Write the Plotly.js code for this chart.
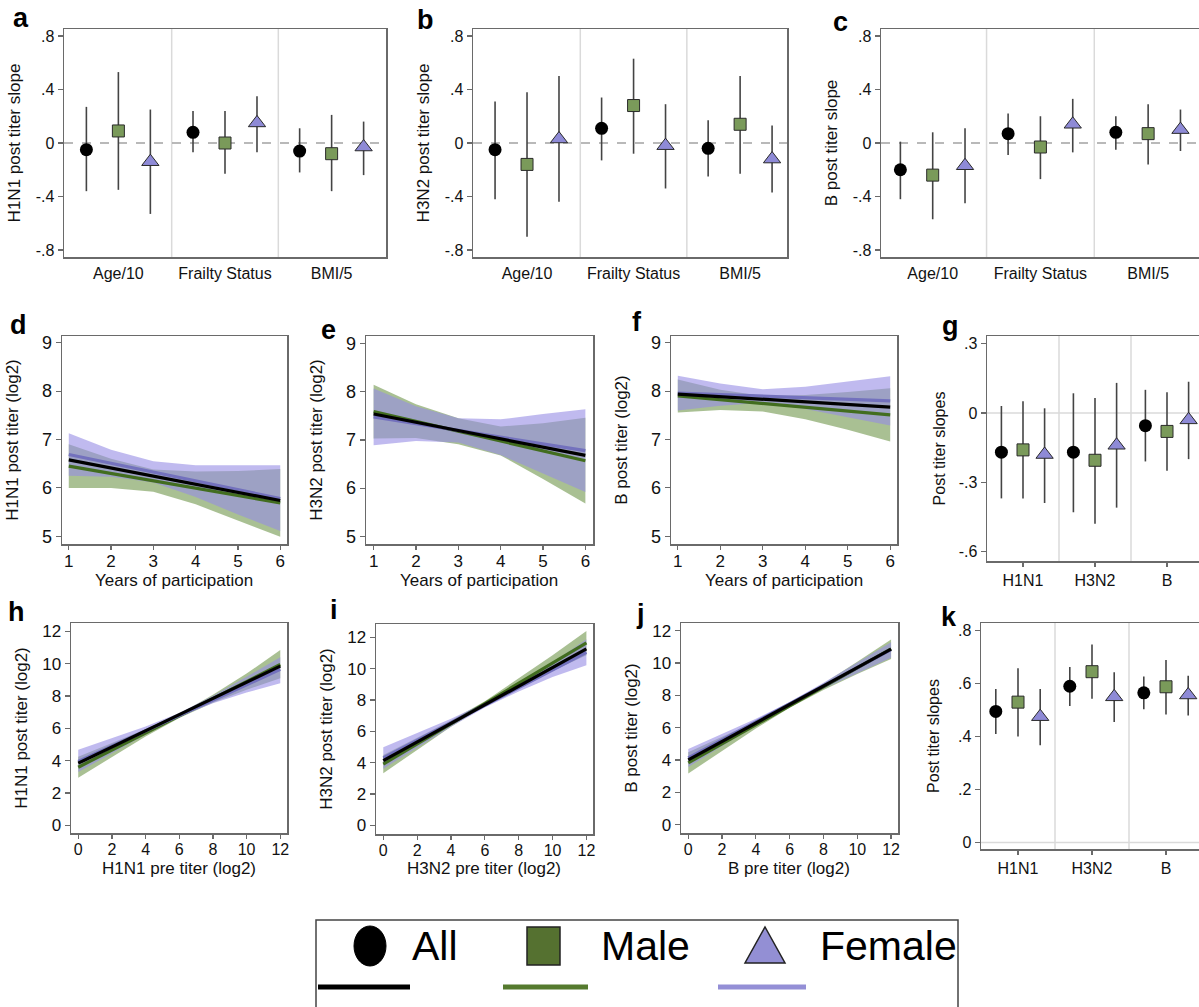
<!DOCTYPE html>
<html><head><meta charset="utf-8">
<script src="https://cdn.plot.ly/plotly-3.0.1.min.js"></script>
<style>html,body{margin:0;padding:0;overflow:hidden;background:#fff;} #chart{width:1205px;height:1007px;}</style>
</head><body><div id="chart"></div>
<script>
// ---------- categories & labels ----------
const slopeCats = ['Age/10', 'Frailty Status', 'BMI/5'];
const strainCats = ['H1N1', 'H3N2', 'B'];
const groupNames = ['All', 'Male', 'Female'];
const slopeTickVals = [-0.8, -0.4, 0, 0.4, 0.8];
const slopeTickText = ['-.8', '-.4', '0', '.4', '.8'];
const gTickVals = [-0.6, -0.3, 0, 0.3];
const gTickText = ['-.6', '-.3', '0', '.3'];
const kTickVals = [0, 0.2, 0.4, 0.6, 0.8];
const kTickText = ['0', '.2', '.4', '.6', '.8'];
const years = [1, 2, 3, 4, 5, 6];
const yearEnds = [1, 6];
const preTiter = [0, 2, 4, 6, 8, 10, 12];
const preEnds = [0, 12];

// ---------- panel a (H1N1) rows: All, Male, Female; cols: Age, Frailty, BMI ----------
const aEst = [[-0.05, 0.08, -0.06], [0.09, 0.00, -0.08], [-0.14, 0.15, -0.03]];
const aLo  = [[-0.36, -0.07, -0.22], [-0.35, -0.23, -0.36], [-0.53, -0.07, -0.24]];
const aHi  = [[0.27, 0.24, 0.11], [0.53, 0.24, 0.21], [0.25, 0.35, 0.16]];
// ---------- panel b (H3N2) ----------
const bEst = [[-0.05, 0.11, -0.04], [-0.16, 0.28, 0.14], [0.03, -0.02, -0.12]];
const bLo  = [[-0.42, -0.13, -0.25], [-0.70, -0.08, -0.23], [-0.44, -0.34, -0.37]];
const bHi  = [[0.31, 0.34, 0.17], [0.38, 0.63, 0.50], [0.50, 0.29, 0.13]];
// ---------- panel c (B) ----------
const cEst = [[-0.20, 0.07, 0.08], [-0.24, -0.03, 0.07], [-0.17, 0.14, 0.10]];
const cLo  = [[-0.42, -0.09, -0.05], [-0.57, -0.27, -0.16], [-0.45, -0.07, -0.06]];
const cHi  = [[0.01, 0.22, 0.20], [0.08, 0.20, 0.29], [0.11, 0.33, 0.25]];
// ---------- panel g (years slopes) cols: H1N1, H3N2, B ----------
const gEst = [[-0.17, -0.17, -0.055], [-0.16, -0.205, -0.08], [-0.18, -0.14, -0.03]];
const gLo  = [[-0.37, -0.43, -0.21], [-0.37, -0.48, -0.25], [-0.39, -0.41, -0.20]];
const gHi  = [[0.03, 0.085, 0.10], [0.05, 0.065, 0.09], [0.02, 0.13, 0.135]];
// ---------- panel k (pre titer slopes) ----------
const kEst = [[0.495, 0.59, 0.565], [0.53, 0.645, 0.588], [0.475, 0.55, 0.557]];
const kLo  = [[0.41, 0.515, 0.503], [0.40, 0.543, 0.483], [0.367, 0.455, 0.479]];
const kHi  = [[0.58, 0.663, 0.627], [0.658, 0.748, 0.689], [0.58, 0.643, 0.63]];

// ---------- panel d (H1N1 vs years) ----------
const dAllLine = [6.58, 5.74];
const dMaleLine = [6.45, 5.69];
const dFemaleLine = [6.69, 5.78];
const dMaleHi = [6.90, 6.60, 6.38, 6.34, 6.35, 6.39];
const dMaleLo = [6.00, 6.00, 5.92, 5.66, 5.33, 4.99];
const dFemaleHi = [7.13, 6.79, 6.55, 6.47, 6.47, 6.47];
const dFemaleLo = [6.25, 6.23, 6.11, 5.81, 5.45, 5.11];
// ---------- panel e (H3N2 vs years) ----------
const eAllLine = [7.54, 6.68];
const eMaleLine = [7.59, 6.57];
const eFemaleLine = [7.48, 6.78];
const eMaleHi = [8.15, 7.74, 7.45, 7.28, 7.35, 7.46];
const eMaleLo = [7.03, 7.04, 6.91, 6.68, 6.19, 5.68];
const eFemaleHi = [8.07, 7.70, 7.45, 7.43, 7.54, 7.64];
const eFemaleLo = [6.89, 6.98, 6.95, 6.69, 6.30, 5.92];
// ---------- panel f (B vs years) ----------
const fAllLine = [7.94, 7.67];
const fMaleLine = [7.90, 7.51];
const fFemaleLine = [7.96, 7.80];
const fMaleHi = [8.24, 8.03, 7.90, 7.92, 7.98, 8.06];
const fMaleLo = [7.56, 7.61, 7.58, 7.42, 7.20, 6.96];
const fFemaleHi = [8.32, 8.16, 8.04, 8.09, 8.20, 8.31];
const fFemaleLo = [7.60, 7.70, 7.76, 7.63, 7.46, 7.29];
// ---------- panel h (H1N1 post vs pre) ----------
const hAllLine = [3.85, 9.85];
const hMaleLine = [3.60, 9.95];
const hFemaleLine = [3.95, 9.65];
const hMaleHi = [4.25, 5.08, 5.94, 6.89, 8.08, 9.39, 10.85];
const hMaleLo = [2.95, 4.24, 5.50, 6.65, 7.58, 8.39, 9.10];
const hFemaleHi = [4.68, 5.38, 6.12, 6.96, 8.02, 9.20, 10.40];
const hFemaleLo = [3.30, 4.44, 5.62, 6.72, 7.55, 8.22, 8.80];
// ---------- panel i (H3N2 post vs pre) ----------
const iAllLine = [4.13, 11.26];
const iMaleLine = [3.91, 11.64];
const iFemaleLine = [4.30, 11.04];
const iMaleHi = [4.49, 5.58, 6.69, 7.92, 9.36, 10.85, 12.40];
const iMaleLo = [3.33, 4.82, 6.29, 7.62, 8.76, 9.85, 10.86];
const iFemaleHi = [4.98, 5.87, 6.80, 7.82, 9.05, 10.37, 11.87];
const iFemaleLo = [3.62, 4.97, 6.30, 7.52, 8.55, 9.47, 10.21];
// ---------- panel j (B post vs pre) ----------
const jAllLine = [4.00, 10.85];
const jMaleLine = [3.82, 10.87];
const jFemaleLine = [4.12, 10.82];
const jMaleHi = [4.48, 5.41, 6.39, 7.47, 8.72, 10.08, 11.45];
const jMaleLo = [3.16, 4.57, 5.95, 7.23, 8.32, 9.32, 10.25];
const jFemaleHi = [4.68, 5.62, 6.55, 7.59, 8.77, 10.03, 11.28];
const jFemaleLo = [3.56, 4.86, 6.15, 7.35, 8.41, 9.37, 10.32];

// ---------- styling ----------
const W = 1205, H = 1007;
const FONT = 'Liberation Sans, Arial, Helvetica, sans-serif';
const TXT = '#111';
const FRAME = '#6a6a6a';
const dx = (a, b) => [a / W, b / W];
const dy = (top, bottom) => [1 - bottom / H, 1 - top / H];
const px = v => v / W;
const py = v => 1 - v / H;

const offsets = [-0.3, 0, 0.3];
const dotStyles = [
  {symbol: 'circle', size: 13, color: '#000000', line: {color: '#000000', width: 0}},
  {symbol: 'square', size: 12, color: '#7a9a5a', line: {color: '#2a2a2a', width: 1}},
  {symbol: 'triangle-up', size: 15, color: '#8e8ad6', line: {color: '#2a2a2a', width: 1}}
];
const bandColors = ['rgba(83,130,40,0.5)', 'rgba(150,140,228,0.6)'];
const lineColors = {all: '#000000', male: '#426d1f', female: '#7371bd'};

const traces = [];
function addDots(est, lo, hi, cats, xa, ya) {
  for (let g = 0; g < 3; g++) {
    traces.push({
      type: 'scatter', mode: 'markers', xaxis: xa, yaxis: ya, name: groupNames[g], showlegend: false,
      x: cats.map((c, i) => i + offsets[g]), y: est[g],
      error_y: {type: 'data', symmetric: false,
        array: est[g].map((v, i) => hi[g][i] - v),
        arrayminus: est[g].map((v, i) => v - lo[g][i]),
        width: 0, thickness: 1.6, color: '#444444'},
      marker: dotStyles[g], hoverinfo: 'skip', cliponaxis: false
    });
  }
}
function addBand(xs, lo, hi, color, xa, ya) {
  traces.push({
    type: 'scatter', mode: 'lines', xaxis: xa, yaxis: ya, showlegend: false, hoverinfo: 'skip',
    x: xs.concat(xs.slice().reverse()), y: hi.concat(lo.slice().reverse()),
    fill: 'toself', fillcolor: color, line: {width: 0}
  });
}
function addLine(xs, ys, color, xa, ya) {
  traces.push({type: 'scatter', mode: 'lines', xaxis: xa, yaxis: ya, showlegend: false, hoverinfo: 'skip',
    x: xs, y: ys, line: {color: color, width: 3.2}});
}
function addFitPanel(xs, ends, mLo, mHi, fLo, fHi, allL, mL, fL, xa, ya) {
  addBand(xs, mLo, mHi, bandColors[0], xa, ya);
  addBand(xs, fLo, fHi, bandColors[1], xa, ya);
  addLine(ends, mL, lineColors.male, xa, ya);
  addLine(ends, fL, lineColors.female, xa, ya);
  addLine(ends, allL, lineColors.all, xa, ya);
}

addDots(aEst, aLo, aHi, slopeCats, 'x', 'y');
addDots(bEst, bLo, bHi, slopeCats, 'x2', 'y2');
addDots(cEst, cLo, cHi, slopeCats, 'x3', 'y3');
addFitPanel(years, yearEnds, dMaleLo, dMaleHi, dFemaleLo, dFemaleHi, dAllLine, dMaleLine, dFemaleLine, 'x4', 'y4');
addFitPanel(years, yearEnds, eMaleLo, eMaleHi, eFemaleLo, eFemaleHi, eAllLine, eMaleLine, eFemaleLine, 'x5', 'y5');
addFitPanel(years, yearEnds, fMaleLo, fMaleHi, fFemaleLo, fFemaleHi, fAllLine, fMaleLine, fFemaleLine, 'x6', 'y6');
addDots(gEst, gLo, gHi, strainCats, 'x7', 'y7');
addFitPanel(preTiter, preEnds, hMaleLo, hMaleHi, hFemaleLo, hFemaleHi, hAllLine, hMaleLine, hFemaleLine, 'x8', 'y8');
addFitPanel(preTiter, preEnds, iMaleLo, iMaleHi, iFemaleLo, iFemaleHi, iAllLine, iMaleLine, iFemaleLine, 'x9', 'y9');
addFitPanel(preTiter, preEnds, jMaleLo, jMaleHi, jFemaleLo, jFemaleHi, jAllLine, jMaleLine, jFemaleLine, 'x10', 'y10');
addDots(kEst, kLo, kHi, strainCats, 'x11', 'y11');

// ---------- axes ----------
function base(extra) {
  return Object.assign({
    showline: true, mirror: true, linecolor: FRAME, linewidth: 1.5,
    ticks: 'outside', ticklen: 5, tickcolor: FRAME, tickwidth: 1.2,
    showgrid: false, zeroline: false, fixedrange: true, automargin: false,
    tickfont: {family: FONT, size: 16, color: TXT}
  }, extra);
}
function ttl(text, size) {
  return {text: text, font: {family: FONT, size: size, color: TXT}};
}
function catXAxis(dom, range, cats, withTicks, anchor) {
  return base({domain: dom, range: range, anchor: anchor, tickmode: 'array', tickvals: [0, 1, 2], ticktext: cats,
    ticks: withTicks ? 'outside' : '', ticklen: withTicks ? 4 : 0, ticklabelstandoff: withTicks ? 0 : 1,
    tickfont: {family: FONT, size: 16, color: TXT}});
}
function slopeYAxis(dom, range, vals, text, title, anchor) {
  return base({domain: dom, range: range, anchor: anchor, tickmode: 'array', tickvals: vals, ticktext: text,
    title: ttl(title, 17)});
}
function numXAxis(dom, range, vals, size, anchor) {
  return base({domain: dom, range: range, anchor: anchor, tickmode: 'array', tickvals: vals,
    ticklen: 4, ticklabelstandoff: -3,
    tickfont: {family: FONT, size: size, color: TXT}});
}
function numYAxis(dom, range, vals, title, size, anchor) {
  return base({domain: dom, range: range, anchor: anchor, tickmode: 'array', tickvals: vals,
    tickfont: {family: FONT, size: size, color: TXT}, title: ttl(title, 17)});
}

const topY = dy(29, 257);
const layout = {
  width: W, height: H, margin: {l: 0, r: 0, t: 0, b: 0},
  paper_bgcolor: '#ffffff', plot_bgcolor: '#ffffff', showlegend: false,
  font: {family: FONT, color: TXT},
  xaxis: catXAxis(dx(64, 386), [-0.51, 2.51], slopeCats, false, 'y'),
  yaxis: slopeYAxis(topY, [-0.852, 0.852], slopeTickVals, slopeTickText, 'H1N1 post titer slope', 'x'),
  xaxis2: catXAxis(dx(473, 787), [-0.507, 2.44], slopeCats, false, 'y2'),
  yaxis2: slopeYAxis(topY, [-0.852, 0.852], slopeTickVals, slopeTickText, 'H3N2 post titer slope', 'x2'),
  xaxis3: catXAxis(dx(881, 1202), [-0.48, 2.5], slopeCats, false, 'y3'),
  yaxis3: slopeYAxis(topY, [-0.852, 0.852], slopeTickVals, slopeTickText, 'B post titer slope', 'x3'),
  xaxis4: numXAxis(dx(62, 287), [0.84, 6.16], years, 17, 'y4'),
  yaxis4: numYAxis(dy(336, 544), [4.84, 9.14], [5, 6, 7, 8, 9], 'H1N1 post titer (log2)', 18, 'x4'),
  xaxis5: numXAxis(dx(366, 593), [0.82, 6.18], years, 17, 'y5'),
  yaxis5: numYAxis(dy(336, 544), [4.84, 9.16], [5, 6, 7, 8, 9], 'H3N2 post titer (log2)', 18, 'x5'),
  xaxis6: numXAxis(dx(671, 897), [0.84, 6.16], years, 17, 'y6'),
  yaxis6: numYAxis(dy(336, 544), [4.84, 9.14], [5, 6, 7, 8, 9], 'B post titer (log2)', 18, 'x6'),
  xaxis7: catXAxis(dx(987, 1203), [-0.5, 2.5], strainCats, true, 'y7'),
  yaxis7: slopeYAxis(dy(336, 561), [-0.641, 0.333], gTickVals, gTickText, 'Post titer slopes', 'x7'),
  xaxis8: numXAxis(dx(71, 287), [-0.43, 12.4], preTiter, 16, 'y8'),
  yaxis8: numYAxis(dy(623, 833), [-0.47, 12.52], [0, 2, 4, 6, 8, 10, 12], 'H1N1 post titer (log2)', 17, 'x8'),
  xaxis9: numXAxis(dx(376, 593), [-0.43, 12.39], preTiter, 16, 'y9'),
  yaxis9: numYAxis(dy(624, 834), [-0.55, 12.85], [0, 2, 4, 6, 8, 10, 12], 'H3N2 post titer (log2)', 17, 'x9'),
  xaxis10: numXAxis(dx(681, 898), [-0.43, 12.41], preTiter, 16, 'y10'),
  yaxis10: numYAxis(dy(623, 833), [-0.52, 12.47], [0, 2, 4, 6, 8, 10, 12], 'B post titer (log2)', 17, 'x10'),
  xaxis11: catXAxis(dx(981, 1203), [-0.5, 2.5], strainCats, true, 'y11'),
  yaxis11: slopeYAxis(dy(623, 849), [-0.025, 0.829], kTickVals, kTickText, 'Post titer slopes', 'x11'),
  shapes: [], annotations: []
};
layout.yaxis7.title.font.size = 16;
layout.yaxis11.title.font.size = 16;

// x-axis titles of the fitted-line panels (placed as text under each panel)
const xTitles = [['Years of participation', 174, 580], ['Years of participation', 479, 580], ['Years of participation', 784, 580],
  ['H1N1 pre titer (log2)', 179, 868], ['H3N2 pre titer (log2)', 484, 868], ['B pre titer (log2)', 789, 868]];
xTitles.forEach(([t, x, y]) => layout.annotations.push({text: t, xref: 'paper', yref: 'paper', x: px(x), y: py(y),
  xanchor: 'center', yanchor: 'middle', showarrow: false, font: {family: FONT, size: 17, color: TXT}}));

// separators & reference lines
const sepAxes = [['x', 'y'], ['x2', 'y2'], ['x3', 'y3'], ['x7', 'y7'], ['x11', 'y11']];
sepAxes.forEach(([xa, ya]) => {
  [0.5, 1.5].forEach(v => layout.shapes.push({type: 'line', layer: 'below', xref: xa, yref: ya + ' domain',
    x0: v, x1: v, y0: 0, y1: 1, line: {color: '#dadada', width: 1.5}}));
});
[['x', 'y'], ['x2', 'y2'], ['x3', 'y3']].forEach(([xa, ya]) => {
  layout.shapes.push({type: 'line', layer: 'below', xref: xa + ' domain', yref: ya, x0: 0, x1: 1, y0: 0, y1: 0,
    line: {color: '#a3a3a3', width: 1.6, dash: 'dash'}});
});
[['x7', 'y7'], ['x11', 'y11']].forEach(([xa, ya]) => {
  layout.shapes.push({type: 'line', layer: 'below', xref: xa + ' domain', yref: ya, x0: 0, x1: 1, y0: 0, y1: 0,
    line: {color: '#dadada', width: 1.5}});
});

// panel letters
const letters = [['a', 21, 18], ['b', 425, 20], ['c', 840, 22], ['d', 18, 325], ['e', 329, 330], ['f', 637, 322],
  ['g', 950, 326], ['h', 16, 612], ['i', 334, 610], ['j', 640, 614], ['k', 949, 617]];
letters.forEach(([t, x, y]) => layout.annotations.push({text: '<b>' + t + '</b>', xref: 'paper', yref: 'paper',
  x: px(x), y: py(y), xanchor: 'center', yanchor: 'middle', showarrow: false,
  font: {family: FONT, size: 27, color: '#000'}}));

// legend box
layout.shapes.push({type: 'rect', xref: 'paper', yref: 'paper', x0: px(316), x1: px(958), y0: py(1012), y1: py(920),
  line: {color: '#444', width: 1.5}, fillcolor: 'rgba(0,0,0,0)'});
layout.shapes.push({type: 'circle', xref: 'paper', yref: 'paper', x0: px(354), x1: px(386), y0: py(966), y1: py(926),
  line: {color: '#000', width: 1}, fillcolor: '#000'});
layout.shapes.push({type: 'rect', xref: 'paper', yref: 'paper', x0: px(527), x1: px(560), y0: py(965), y1: py(927),
  line: {color: '#222', width: 1.5}, fillcolor: '#557130'});
layout.shapes.push({type: 'path', xref: 'paper', yref: 'paper',
  path: 'M ' + px(745) + ' ' + py(963) + ' L ' + px(785) + ' ' + py(963) + ' L ' + px(765) + ' ' + py(927) + ' Z',
  line: {color: '#222', width: 1.5}, fillcolor: '#938fd4'});
[[318, 410, '#000000'], [503, 588, '#557a2e'], [718, 806, '#948fd6']].forEach(([a, b, c]) =>
  layout.shapes.push({type: 'line', xref: 'paper', yref: 'paper', x0: px(a), x1: px(b), y0: py(987), y1: py(987),
    line: {color: c, width: 5}}));
[['All', 410], ['Male', 599], ['Female', 818]].forEach(([t, x]) => layout.annotations.push({text: t,
  xref: 'paper', yref: 'paper', x: px(x), y: py(946), xanchor: 'left', yanchor: 'middle', showarrow: false,
  font: {family: FONT, size: 41, color: '#000'}}));

Plotly.newPlot('chart', traces, layout, {displayModeBar: false, staticPlot: true});
</script></body></html>
